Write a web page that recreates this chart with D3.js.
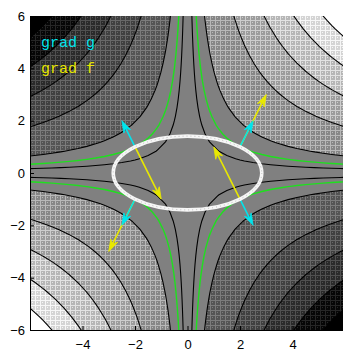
<!DOCTYPE html>
<html>
<head>
<meta charset="utf-8">
<script src="https://cdn.jsdelivr.net/npm/d3@7"></script>
<style>
  body { margin: 0; background: #fff; }
  svg { display: block; }
</style>
</head>
<body>
<svg id="chart" width="343" height="352"></svg>
<script>
// shading levels of f(x,y) = x*y
var bandLevels = [-31, -24.3, -17.5, -10.6, -3.9, 3.9, 10.6, 17.5, 24.3, 31];
var bandBase = ["#000000", "#060606", "#2a2a2a", "#404040", "#545454", "#808080", "#868686", "#9c9c9c", "#b6b6b6", "#d4d4d4", "#ffffff"];
var bandDots = [null, "#262626", "#505050", "#686868", "#7c7c7c", null, "#b8b8b8", "#cecece", "#e3e3e3", "#f7f7f7", null];
var innerLevels = [-1, 1];
var greenLevels = [-2, 2];
var xTicks = [-4, -2, 0, 2, 4];
var yTicks = [-6, -4, -2, 0, 2, 4, 6];

// constraint ellipse x^2/8 + y^2/2 = 1
var ellipseA = 2.83, ellipseB = 1.41;

// tangent points and the two gradients there
var ptX = [2, -2, -2, 2];
var ptY = [1, 1, -1, -1];
var gradFx = [1, 1, -1, -1];
var gradFy = [2, -2, -2, 2];
var gradGx = [0.5, -0.5, -0.5, 0.5];
var gradGy = [1, 1, -1, -1];

var legendText = ["grad g", "grad f"];
var legendColor = ["#00e4ec", "#e8e800"];

var svg = d3.select("#chart");
var x = d3.scaleLinear().domain([-6, 6]).range([30, 345]);
var y = d3.scaleLinear().domain([-6, 6]).range([330, 16]);

var defs = svg.append("defs");
defs.append("clipPath").attr("id", "plotclip")
  .append("rect").attr("x", 30).attr("y", 16).attr("width", 315).attr("height", 314);

// dithered looking fills
var pats = defs.selectAll("pattern").data(bandBase).enter().append("pattern")
  .attr("id", (d, i) => "pat" + i)
  .attr("width", 5).attr("height", 5)
  .attr("patternUnits", "userSpaceOnUse");
pats.append("rect").attr("width", 5).attr("height", 5).attr("fill", d => d);
pats.each(function(d, i) {
  if (!bandDots[i]) return;
  var p = d3.select(this);
  p.append("rect").attr("x", 0).attr("y", 0).attr("width", 5).attr("height", 1).attr("fill", bandDots[i]);
  p.append("rect").attr("x", 0).attr("y", 0).attr("width", 1).attr("height", 5).attr("fill", bandDots[i]);
  p.append("rect").attr("x", 2).attr("y", 2).attr("width", 1).attr("height", 1).attr("fill", bandDots[i]);
});

// sample grid a bit larger than the frame so the outer edges get clipped away
var n = 42, lo = -7, hi = 7;
var values = new Array(n * n);
for (var j = 0; j < n; j++) {
  for (var i = 0; i < n; i++) {
    var xv = lo + (i + 0.5) * (hi - lo) / n;
    var yv = hi - (j + 0.5) * (hi - lo) / n;
    values[j * n + i] = xv * yv;
  }
}
var path = d3.geoPath(d3.geoTransform({
  point: function(px, py) {
    this.stream.point(x(lo + (hi - lo) * px / n), y(hi - (hi - lo) * py / n));
  }
}));

var plot = svg.append("g").attr("clip-path", "url(#plotclip)");
plot.append("rect").attr("x", 30).attr("y", 16).attr("width", 315).attr("height", 314)
  .attr("fill", "url(#pat0)");

var bands = d3.contours().size([n, n]).thresholds(bandLevels)(values);
plot.selectAll(".band").data(bands).enter().append("path")
  .attr("class", "band")
  .attr("d", path)
  .attr("fill", (d, i) => "url(#pat" + (i + 1) + ")");

var lines = d3.contours().size([n, n]).thresholds(bandLevels.concat(innerLevels))(values);
plot.selectAll(".cline").data(lines).enter().append("path")
  .attr("class", "cline")
  .attr("d", path)
  .attr("fill", "none")
  .attr("stroke", "#000")
  .attr("stroke-width", 1.1);

var greens = d3.contours().size([n, n]).thresholds(greenLevels)(values);
plot.selectAll(".gline").data(greens).enter().append("path")
  .attr("class", "gline")
  .attr("d", path)
  .attr("fill", "none")
  .attr("stroke", "#1ee01e")
  .attr("stroke-width", 1.4);

function arrow(g, x0, y0, x1, y1, color) {
  var ax = x(x0), ay = y(y0), bx = x(x1), by = y(y1);
  var dx = bx - ax, dy = by - ay, len = Math.sqrt(dx * dx + dy * dy);
  var ux = dx / len, uy = dy / len;
  var hl = 12, hw = 3.8;
  g.append("line")
    .attr("x1", ax).attr("y1", ay)
    .attr("x2", bx - ux * 4).attr("y2", by - uy * 4)
    .attr("stroke", color).attr("stroke-width", 1.6);
  var bxp = bx - ux * hl, byp = by - uy * hl;
  g.append("path")
    .attr("d", "M" + bx + "," + by +
      "L" + (bxp - uy * hw) + "," + (byp + ux * hw) +
      "L" + (bx - ux * hl * 0.7) + "," + (by - uy * hl * 0.7) +
      "L" + (bxp + uy * hw) + "," + (byp - ux * hw) + "Z")
    .attr("fill", color).attr("stroke", color).attr("stroke-width", 0.8);
}

var arrows = svg.append("g").attr("clip-path", "url(#plotclip)");
ptX.forEach(function(px, k) {
  arrow(arrows, px, ptY[k], px + gradFx[k], ptY[k] + gradFy[k], legendColor[1]);
});
ptX.forEach(function(px, k) {
  arrow(arrows, px, ptY[k], px + gradGx[k], ptY[k] + gradGy[k], legendColor[0]);
});

// constraint curve
arrows.append("ellipse")
  .attr("cx", x(0)).attr("cy", y(0))
  .attr("rx", x(ellipseA) - x(0)).attr("ry", y(0) - y(ellipseB))
  .attr("fill", "none").attr("stroke", "#f6f6f6").attr("stroke-width", 3.6);
arrows.append("ellipse")
  .attr("cx", x(0)).attr("cy", y(0))
  .attr("rx", x(ellipseA) - x(0)).attr("ry", y(0) - y(ellipseB))
  .attr("fill", "none").attr("stroke", "#bdbdbd").attr("stroke-width", 1)
  .attr("stroke-dasharray", "1,3");

// legend
svg.selectAll(".leg").data(legendText).enter().append("text")
  .attr("class", "leg")
  .attr("x", 41)
  .attr("y", (d, i) => 47 + i * 26)
  .attr("fill", (d, i) => legendColor[i])
  .style("font-family", "'Liberation Mono', 'DejaVu Sans Mono', monospace")
  .style("font-size", "15px")
  .text(d => d);

// frame axes, ticks point inward
var yAxis = d3.axisLeft(y).tickValues(yTicks).tickSize(-4).tickSizeOuter(0).tickPadding(5);
var xAxis = d3.axisBottom(x).tickValues(xTicks).tickSize(-4).tickSizeOuter(0).tickPadding(10);

var gy = svg.append("g").attr("transform", "translate(30,0)").call(yAxis);
var gx = svg.append("g").attr("transform", "translate(0,330)").call(xAxis);
svg.selectAll(".tick text")
  .style("font-family", "'Liberation Sans', Arial, sans-serif")
  .style("font-size", "13px")
  .attr("fill", "#000");
svg.selectAll(".domain").attr("stroke", "#000");
</script>
</body>
</html>
